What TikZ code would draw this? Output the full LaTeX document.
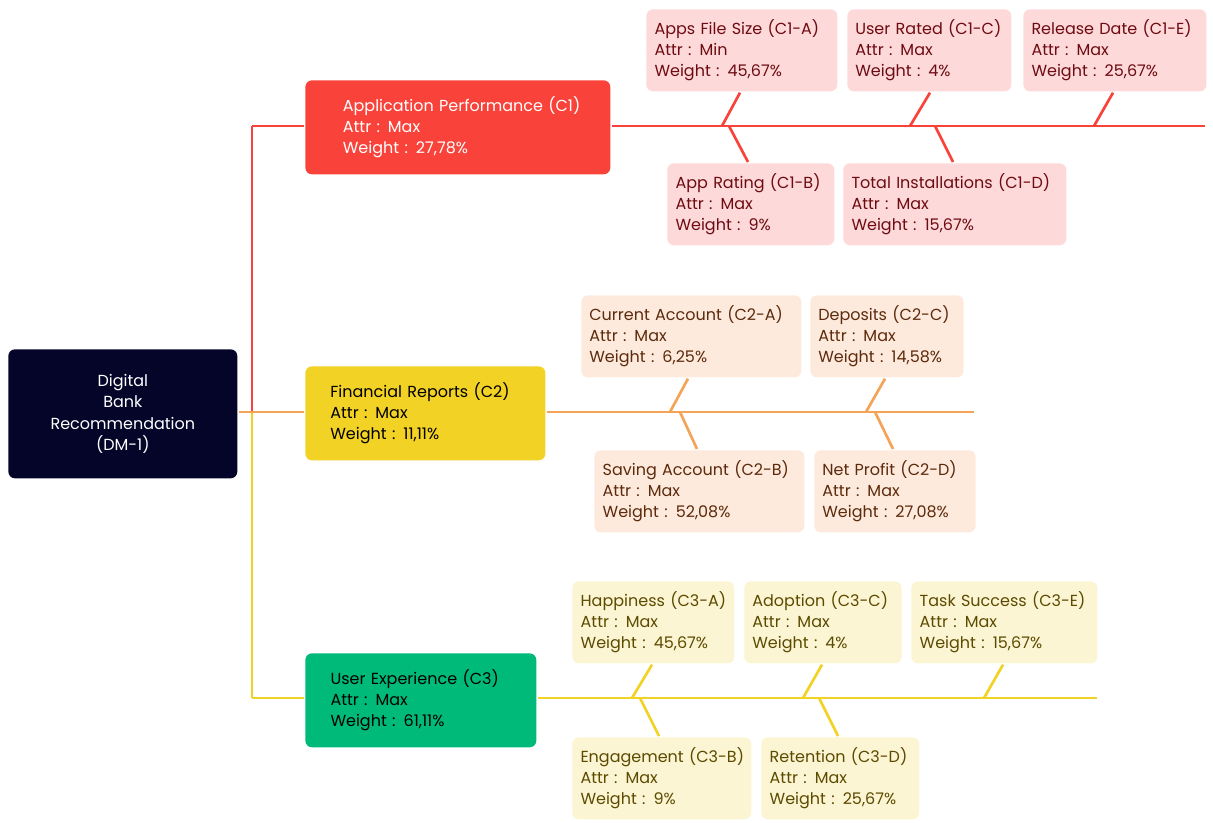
\documentclass[tikz,border=0pt]{standalone}
\usepackage{fontspec}
\setmainfont{Poppins}
\usetikzlibrary{positioning}
\definecolor{navy}{HTML}{05052A}
\definecolor{perfred}{HTML}{F9433A}
\definecolor{repyel}{HTML}{F2D224}
\definecolor{uxgreen}{HTML}{00BA7A}
\definecolor{spineorange}{HTML}{F5A356}
\definecolor{pinkbox}{HTML}{FDD9D9}
\definecolor{pinktext}{HTML}{6E0B12}
\definecolor{peachbox}{HTML}{FDEADC}
\definecolor{peachtext}{HTML}{5C2A0C}
\definecolor{creambox}{HTML}{FCF5D3}
\definecolor{creamtext}{HTML}{5C4A00}

\begin{document}
\begin{tikzpicture}[x=0.75pt,y=-0.75pt,line width=2pt,
  font=\fontsize{12}{16}\selectfont,
  box/.style={anchor=north west,rounded corners=5pt,align=left,inner xsep=0pt,inner ysep=0pt},
  main/.style={box,minimum height=70.5pt,text width=#1},
  sub/.style={box,minimum height=61.5pt,text width=#1},
  c1sub/.style={sub=#1,fill=pinkbox,text=pinktext},
  c2sub/.style={sub=#1,fill=peachbox,text=peachtext},
  c3sub/.style={sub=#1,fill=creambox,text=creamtext}]
\useasboundingbox (0,0) rectangle (1213,823);

\node [box,fill=navy,text=white,align=center,minimum width=171.75pt,minimum height=96.75pt,text width=171.75pt] (dm) at (7,348) {Digital\\Bank\\Recommendation\\(DM-1)};

% trunk
\draw [repyel] (dm.east |- 0,412) -- (252,412) coordinate (t2) -- (252,698) coordinate (t3);
\draw [perfred] (252,412) -- (252,126) coordinate (t1);
\draw [spineorange] (dm.east |- 0,412) -- (304,412);

% criteria
\node [main=210pt,fill=perfred,text=white,minimum width=228.75pt] (c1) at (304,79) {\hspace*{18.75pt}\parbox{190pt}{Application Performance (C1)\\Attr : Max\\Weight : 27,78\%}};
\node [main=180pt,fill=repyel,text=black,minimum width=180pt] (c2) at (304,365) {\hspace*{18.75pt}\parbox{160pt}{Financial Reports (C2)\\Attr : Max\\Weight : 11,11\%}};
\node [main=173pt,fill=uxgreen,text=black,minimum width=173.25pt] (c3) at (304,652) {\hspace*{18.75pt}\parbox{150pt}{User Experience (C3)\\Attr : Max\\Weight : 61,11\%}};

\draw [perfred] (t1) -- (c1.west |- t1);
\draw [repyel] (t3) -- (c3.west |- t3);

% spines
\draw [perfred] (c1.east |- t1) -- (1205,126) coordinate (e1);
\draw [spineorange] (c2.east |- t2) -- (974,412) coordinate (e2);
\draw [repyel] (c3.east |- t3) -- (1097,698) coordinate (e3);

% C1 sub-criteria
\node [c1sub=143pt,minimum width=143.25pt] (c1a) at (645,8) {\hspace*{6pt}\parbox{137pt}{Apps File Size (C1-A)\\Attr : Min\\Weight : 45,67\%}};
\node [c1sub=123pt,minimum width=123pt] (c1c) at (846,8) {\hspace*{6pt}\parbox{117pt}{User Rated (C1-C)\\Attr : Max\\Weight : 4\%}};
\node [c1sub=137pt,minimum width=137.25pt] (c1e) at (1022,8) {\hspace*{6pt}\parbox{131pt}{Release Date (C1-E)\\Attr : Max\\Weight : 25,67\%}};
\node [c1sub=125pt,minimum width=125.25pt] (c1b) at (666,162) {\hspace*{6pt}\parbox{119pt}{App Rating (C1-B)\\Attr : Max\\Weight : 9\%}};
\node [c1sub=167pt,minimum width=167.25pt] (c1d) at (842,162) {\hspace*{6pt}\parbox{161pt}{Total Installations (C1-D)\\Attr : Max\\Weight : 15,67\%}};

\draw [perfred] (c1a.south -| 740,0) -- (722,126);
\draw [perfred] (729,126) -- (c1b.north -| 748,0);
\draw [perfred] (c1c.south -| 930,0) -- (910,126);
\draw [perfred] (935,126) -- (c1d.north -| 953,0);
\draw [perfred] (c1e.south -| 1113,0) -- (1094,126);

% C2 sub-criteria
\node [c2sub=165pt,minimum width=165pt] (c2a) at (580,294) {\hspace*{6pt}\parbox{159pt}{Current Account (C2-A)\\Attr : Max\\Weight : 6,25\%}};
\node [c2sub=115pt,minimum width=114.75pt] (c2c) at (809,294) {\hspace*{6pt}\parbox{109pt}{Deposits (C2-C)\\Attr : Max\\Weight : 14,58\%}};
\node [c2sub=157pt,minimum width=157.5pt] (c2b) at (593,449) {\hspace*{6pt}\parbox{151pt}{Saving Account (C2-B)\\Attr : Max\\Weight : 52,08\%}};
\node [c2sub=121pt,minimum width=120.75pt] (c2d) at (813,449) {\hspace*{6pt}\parbox{115pt}{Net Profit (C2-D)\\Attr : Max\\Weight : 27,08\%}};

\draw [spineorange] (c2a.south -| 688,0) -- (670,412);
\draw [spineorange] (680,412) -- (c2b.north -| 697,0);
\draw [spineorange] (c2c.south -| 885,0) -- (866,412);
\draw [spineorange] (875,412) -- (c2d.north -| 893,0);

% C3 sub-criteria
\node [c3sub=121pt,minimum width=121.5pt] (c3a) at (571,580) {\hspace*{6pt}\parbox{115pt}{Happiness (C3-A)\\Attr : Max\\Weight : 45,67\%}};
\node [c3sub=118pt,minimum width=117.75pt] (c3c) at (743,580) {\hspace*{6pt}\parbox{112pt}{Adoption (C3-C)\\Attr : Max\\Weight : 4\%}};
\node [c3sub=139pt,minimum width=139.5pt] (c3e) at (910,580) {\hspace*{6pt}\parbox{133pt}{Task Success (C3-E)\\Attr : Max\\Weight : 15,67\%}};
\node [c3sub=134pt,minimum width=134.25pt] (c3b) at (571,736) {\hspace*{6pt}\parbox{128pt}{Engagement (C3-B)\\Attr : Max\\Weight : 9\%}};
\node [c3sub=118pt,minimum width=118.5pt] (c3d) at (760,736) {\hspace*{6pt}\parbox{112pt}{Retention (C3-D)\\Attr : Max\\Weight : 25,67\%}};

\draw [repyel] (c3a.south -| 652,0) -- (632,698);
\draw [repyel] (640,698) -- (c3b.north -| 659,0);
\draw [repyel] (c3c.south -| 822,0) -- (803,698);
\draw [repyel] (819,698) -- (c3d.north -| 838,0);
\draw [repyel] (c3e.south -| 1003,0) -- (984,698);
\end{tikzpicture}
\end{document}
